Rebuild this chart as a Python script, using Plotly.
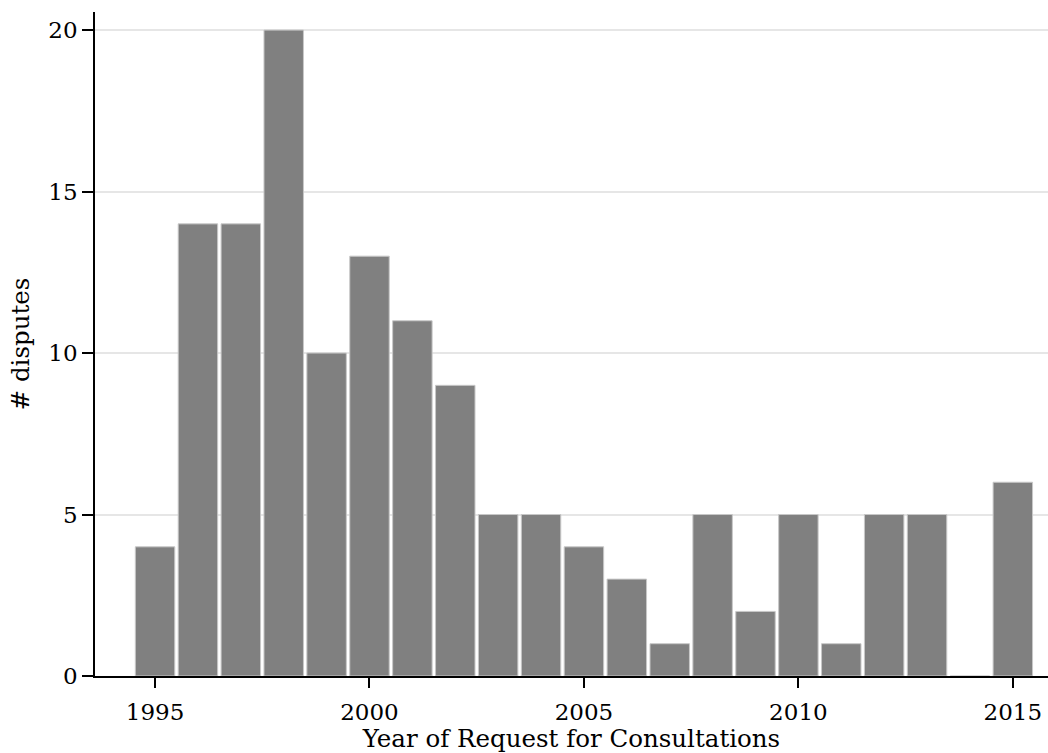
import plotly.graph_objects as go

years = [1995, 1996, 1997, 1998, 1999, 2000, 2001, 2002, 2003, 2004,
         2005, 2006, 2007, 2008, 2009, 2010, 2011, 2012, 2013, 2014, 2015]
disputes = [4, 14, 14, 20, 10, 13, 11, 9, 5, 5,
            4, 3, 1, 5, 2, 5, 1, 5, 5, 0, 6]
x_ticks = [1995, 2000, 2005, 2010, 2015]
y_ticks = [0, 5, 10, 15, 20]

FONT = "DejaVu Serif"

fig = go.Figure()
fig.add_trace(go.Bar(
    x=years, y=disputes, width=0.92,
    marker=dict(color="#808080", line=dict(color="#c8c8c8", width=1)),
    showlegend=False,
))

fig.update_layout(
    width=1048, height=753,
    margin=dict(l=95, r=0, t=12, b=77),
    paper_bgcolor="white", plot_bgcolor="white",
    font=dict(family=FONT, size=23, color="black"),
    xaxis=dict(
        range=[1993.6, 2015.82],
        tickmode="array", tickvals=x_ticks, ticktext=[str(t) for t in x_ticks],
        ticks="outside", ticklen=10, tickwidth=1.5, tickcolor="black",
        ticklabelstandoff=5,
        showline=True, linecolor="black", linewidth=1.5,
        showgrid=False, zeroline=False,
        tickfont=dict(family=FONT, size=23),
        title=dict(text="Year of Request for Consultations", standoff=0,
                   font=dict(family=FONT, size=24.5)),
        automargin=False,
    ),
    yaxis=dict(
        range=[0, 20.56],
        tickmode="array", tickvals=y_ticks, ticktext=[str(t) for t in y_ticks],
        ticks="outside", ticklen=11, tickwidth=1.5, tickcolor="black",
        showline=True, linecolor="black", linewidth=1.5,
        showgrid=True, gridcolor="#e6e6e6", gridwidth=2,
        zeroline=False,
        tickfont=dict(family=FONT, size=23),
        title=dict(text="# disputes", standoff=12,
                   font=dict(family=FONT, size=24.5)),
        automargin=False,
    ),
)

fig.write_html("out.html",
               config={"displayModeBar": False},
               post_script="document.body.style.margin='0';document.body.style.overflow='hidden';")
